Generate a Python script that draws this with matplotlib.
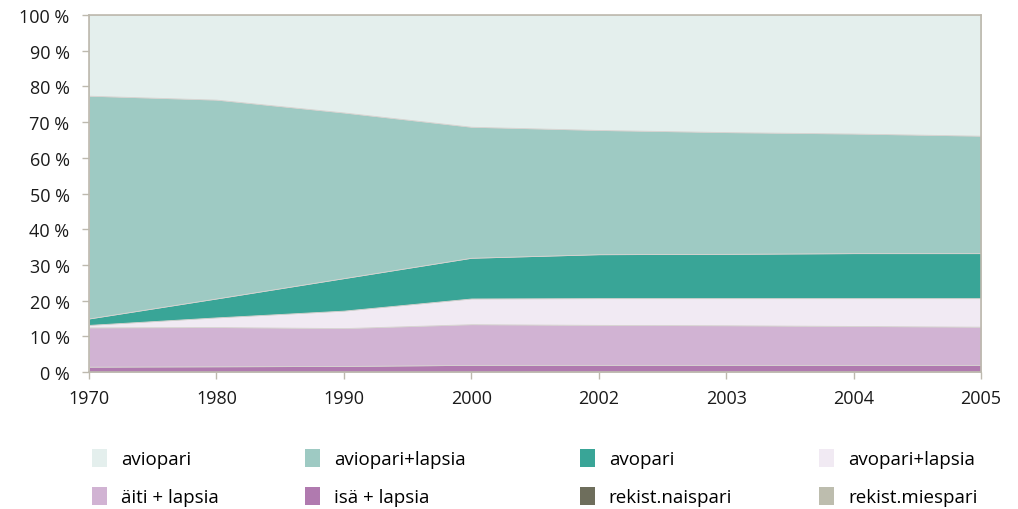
import matplotlib
matplotlib.use("Agg")
import matplotlib.pyplot as plt
import numpy as np

plt.rcParams['font.family'] = ['Open Sans', 'DejaVu Sans']

years = ['1970', '1980', '1990', '2000', '2002', '2003', '2004', '2005']

# shares of families by type, percent
isa_lapsia = [1.5, 1.6, 1.7, 2.0, 1.9, 1.9, 1.9, 1.9]
aiti_lapsia = [11.0, 11.0, 10.6, 11.4, 11.2, 11.1, 10.9, 10.7]
avopari_lapsia = [0.7, 2.7, 4.9, 7.2, 7.5, 7.6, 7.8, 8.0]
avopari = [1.8, 5.3, 9.1, 11.4, 12.3, 12.4, 12.6, 12.6]
aviopari_lapsia = [62.4, 55.7, 46.4, 36.7, 34.8, 34.1, 33.5, 32.9]
rekist_naispari = [0.0, 0.0, 0.0, 0.0, 0.05, 0.05, 0.05, 0.05]
rekist_miespari = [0.0, 0.0, 0.0, 0.0, 0.05, 0.05, 0.05, 0.05]

labels = ['aviopari', 'aviopari+lapsia', 'avopari', 'avopari+lapsia',
          'äiti + lapsia', 'isä + lapsia', 'rekist.naispari', 'rekist.miespari']
colors = ['#e4efed', '#9ecac3', '#39a597', '#f1eaf3',
          '#d1b3d3', '#b07aaf', '#6e6e5c', '#bdbdae']

known = np.array([aviopari_lapsia, avopari, avopari_lapsia, aiti_lapsia,
                  isa_lapsia, rekist_naispari, rekist_miespari])
aviopari = 100 - known.sum(axis=0)

series = [aviopari, aviopari_lapsia, avopari, avopari_lapsia,
          aiti_lapsia, isa_lapsia, rekist_naispari, rekist_miespari]

fig = plt.figure(figsize=(10.18, 5.10), dpi=100)
ax = fig.add_axes([0.0874, 0.2686, 0.9637 - 0.0874, 0.9686 - 0.2686])

x = np.arange(len(years))
# stack from the bottom: last legend entry lies lowest
polys = ax.stackplot(x, series[::-1], colors=colors[::-1],
                     edgecolor='#d6d3d0', linewidth=0.6)
polys = polys[::-1]

ax.set_xlim(0, len(years) - 1)
ax.set_ylim(0, 100)
ax.set_xticks(x)
ax.set_xticklabels(years)
ax.set_yticks(np.arange(0, 101, 10))
ax.set_yticklabels([f'{v} %' for v in range(0, 101, 10)])

grey = '#bdb9ae'
for s in ax.spines.values():
    s.set_color(grey)
    s.set_linewidth(1.2)
ax.tick_params(axis='both', colors=grey, length=5, width=1.0, labelsize=13,
               labelcolor='#1a1a1a')
ax.tick_params(axis='y', pad=9)
ax.tick_params(axis='x', pad=7)

# legend in four columns, two rows
col_x = [0.083, 0.292, 0.562, 0.797]
for c in range(4):
    hs = [polys[c], polys[c + 4]]
    fig.legend(hs, [labels[c], labels[c + 4]], loc='upper left',
               bbox_to_anchor=(col_x[c], 0.133), frameon=False,
               fontsize=13.5, handlelength=0.8, handleheight=1.15,
               handletextpad=0.75, labelspacing=0.98, borderaxespad=0)

for leg in fig.legends:
    for p in leg.get_patches():
        p.set_edgecolor('none')

fig.savefig('out.png', dpi=100)
